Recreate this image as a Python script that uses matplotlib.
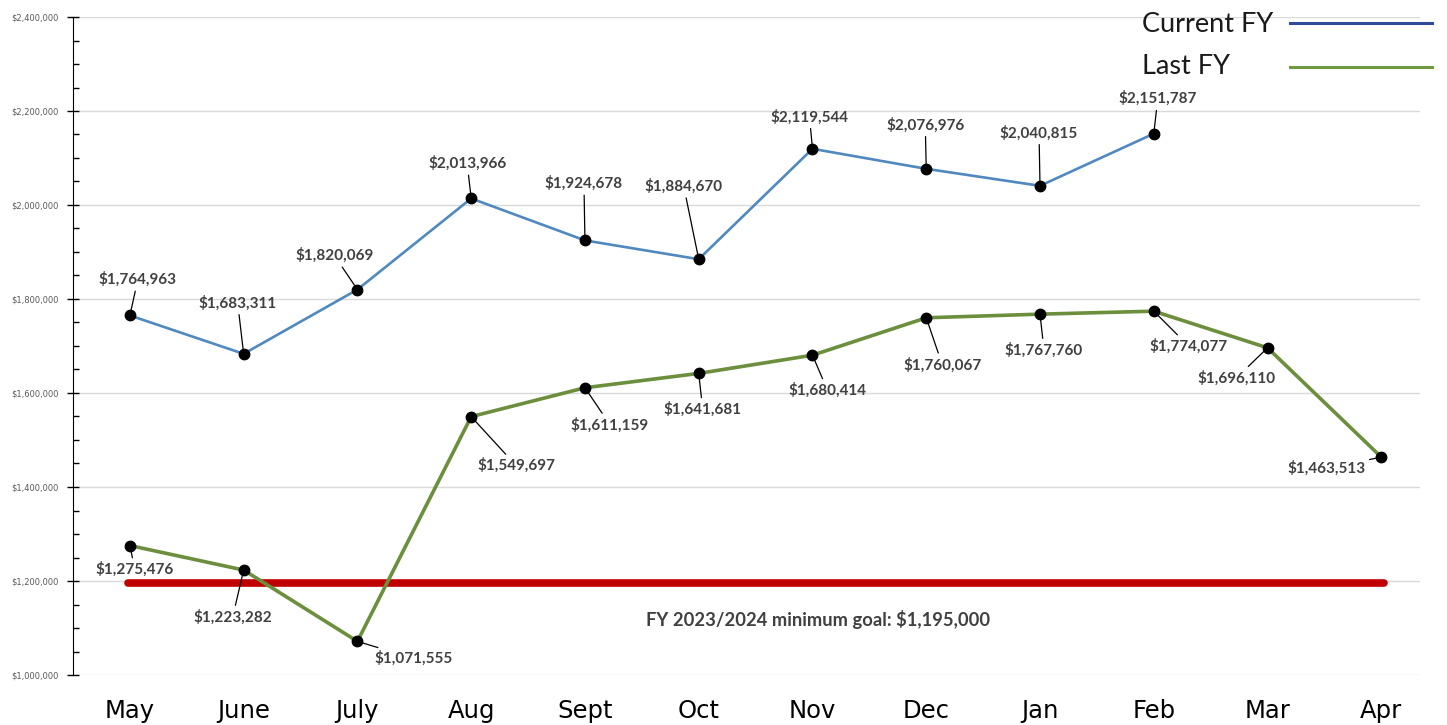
import matplotlib
matplotlib.use("Agg")
import matplotlib.pyplot as plt
from matplotlib.lines import Line2D
from matplotlib.ticker import MultipleLocator, FuncFormatter

# monthly totals, fiscal year runs May -> Apr
months = ['May', 'June', 'July', 'Aug', 'Sept', 'Oct', 'Nov', 'Dec', 'Jan', 'Feb', 'Mar', 'Apr']
current_fy = [1764963, 1683311, 1820069, 2013966, 1924678, 1884670,
              2119544, 2076976, 2040815, 2151787]
last_fy = [1275476, 1223282, 1071555, 1549697, 1611159, 1641681,
           1680414, 1760067, 1767760, 1774077, 1696110, 1463513]
goal = 1195000
goal_text = 'FY 2023/2024 minimum goal: $1,195,000'

# label offsets (pixels) from each point
cur_off = [(8, 36), (-6, 51), (-23, 34), (-4, 35), (-1, 57), (-15, 73),
           (-3, 32), (-1, 44), (-1, 53), (4, 35)]
last_off = [(5, -24), (-11, -47), (56, -17), (45, -49), (25, -37), (4, -36),
            (15, -35), (16, -47), (4, -36), (35, -35), (-31, -30), (-55, -11)]

BLUE = '#4f89c0'
GREEN = '#6b8f3c'
RED = '#c00000'
LABEL = '#404040'

fig = plt.figure(figsize=(14.47, 7.25), dpi=100)
ax = fig.add_axes([73 / 1447, 50 / 725, 1347 / 1447, 658 / 725])

x_cur = list(range(len(current_fy)))
x_last = list(range(len(last_fy)))

ax.plot([-0.02, 11.02], [goal, goal], color=RED, lw=5.5, solid_capstyle='round', zorder=2)
ax.plot(x_last, last_fy, color=GREEN, lw=2.6, zorder=3)
ax.plot(x_cur, current_fy, color=BLUE, lw=1.9, zorder=3)
ax.plot(x_last, last_fy, 'o', color='black', ms=7.5, zorder=4)
ax.plot(x_cur, current_fy, 'o', color='black', ms=7.5, zorder=4)


def money(v):
    return '${:,.0f}'.format(v)


def put_labels(xs, ys, offs):
    for x, y, (dx, dy) in zip(xs, ys, offs):
        ax.annotate(money(y), (x, y), xytext=(dx, dy), textcoords='offset pixels',
                    ha='center', va='center', fontsize=11, fontweight='bold',
                    family='Lato', color=LABEL, zorder=5,
                    arrowprops=dict(arrowstyle='-', color='black', lw=0.9,
                                    shrinkA=1, shrinkB=0))


put_labels(x_cur, current_fy, cur_off)
put_labels(x_last, last_fy, last_off)

ax.text(6.05, 1119000, goal_text, ha='center', va='center', fontsize=13.2,
        fontweight='bold', family='Lato', color=LABEL)

ax.set_xlim(-0.5, 11.34)
ax.set_ylim(1000000, 2400000)
ax.yaxis.set_major_locator(MultipleLocator(200000))
ax.yaxis.set_minor_locator(MultipleLocator(50000))
ax.yaxis.set_major_formatter(FuncFormatter(lambda v, p: money(v)))
ax.grid(axis='y', color='#d9d9d9', lw=1)
ax.set_axisbelow(True)
ax.tick_params(axis='y', which='major', direction='inout', length=9, width=1,
               labelsize=6, labelcolor='#595959', pad=6)
ax.tick_params(axis='y', which='minor', direction='in', length=4, width=1)
for side in ['top', 'right', 'bottom']:
    ax.spines[side].set_visible(False)
ax.spines['left'].set_color('black')

ax.set_xticks(range(len(months)))
ax.set_xticklabels(months, fontsize=17.5, family=['Liberation Sans Narrow', 'DejaVu Sans'])
ax.tick_params(axis='x', length=0, pad=17)

# legend drawn in figure space
fig.text(1142 / 1447, 1 - 24 / 725, 'Current FY', fontsize=19.5, family='Lato',
         va='center', ha='left', color='#1a1a1a')
fig.text(1142 / 1447, 1 - 67 / 725, 'Last FY', fontsize=19.5, family='Lato',
         va='center', ha='left', color='#1a1a1a')
fig.add_artist(Line2D([1290 / 1447, 1432 / 1447], [1 - 23 / 725, 1 - 23 / 725],
                      color='#2e4b9b', lw=2.2))
fig.add_artist(Line2D([1290 / 1447, 1432 / 1447], [1 - 67 / 725, 1 - 67 / 725],
                      color='#6f9a3f', lw=2.2))

fig.savefig('out.png', dpi=100, facecolor='white')
